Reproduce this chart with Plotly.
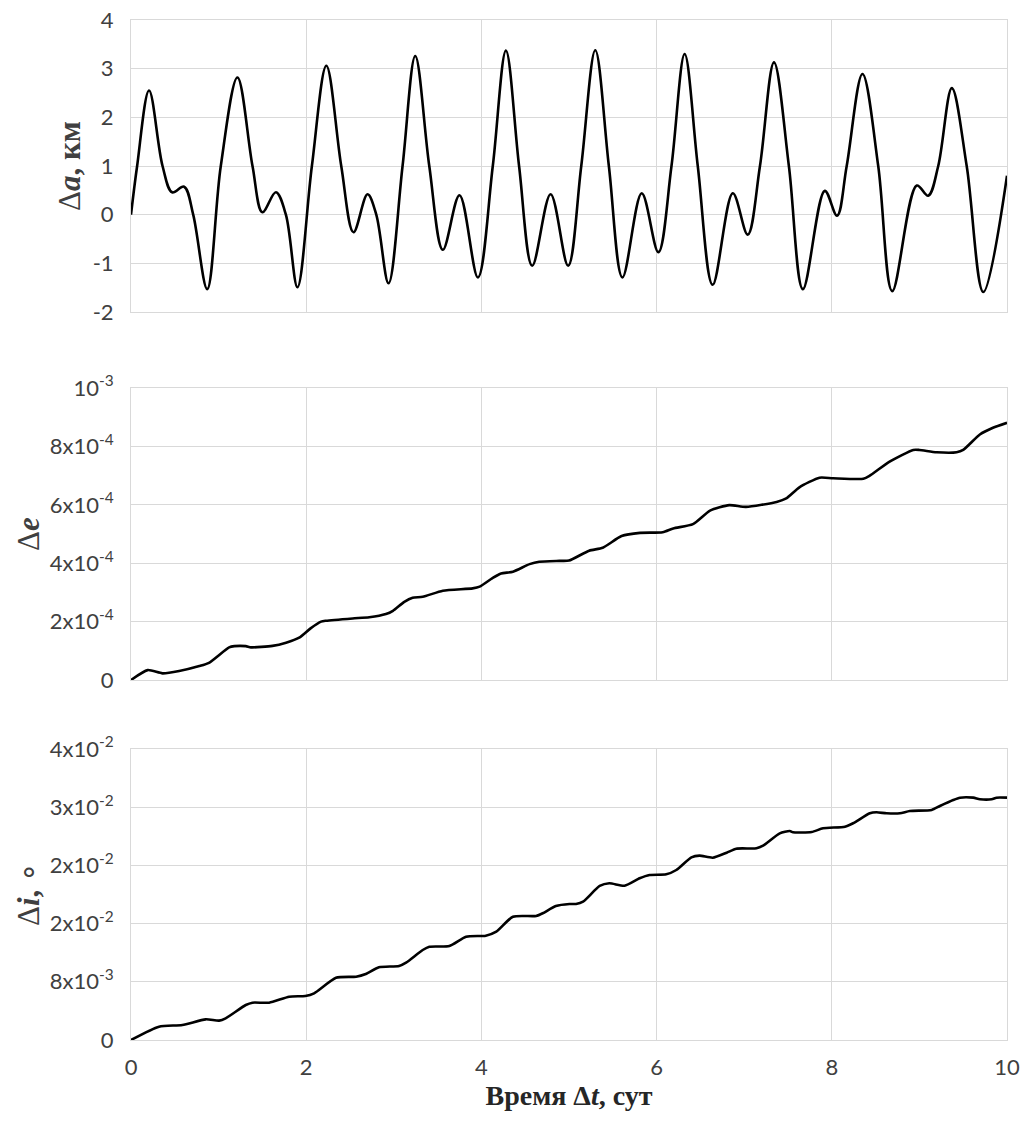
import plotly.graph_objects as go
from plotly.subplots import make_subplots

# --- Δa (km) vs time (days): extrema and slope points
t_a = [0.0, 0.07, 0.206, 0.36, 0.47, 0.606, 0.71, 0.87, 1.025, 1.215, 1.387, 1.50, 1.654, 1.768, 1.90,
       2.065, 2.23, 2.40, 2.54, 2.70, 2.80, 2.94, 3.10, 3.245, 3.405, 3.56, 3.75, 3.96, 4.13, 4.28, 4.43,
       4.58, 4.79, 4.99, 5.14, 5.30, 5.455, 5.61, 5.83, 6.02, 6.17, 6.32, 6.47, 6.64, 6.87, 7.04, 7.18,
       7.34, 7.51, 7.67, 7.92, 8.06, 8.17, 8.35, 8.53, 8.69, 8.97, 9.10, 9.215, 9.37, 9.54, 9.73, 10.0]
da = [0.0, 1.0, 2.55, 1.0, 0.46, 0.575, 0.0, -1.53, 1.0, 2.82, 1.0, 0.05, 0.46, 0.0, -1.49,
      1.0, 3.06, 1.0, -0.36, 0.42, 0.0, -1.41, 1.0, 3.26, 1.0, -0.72, 0.40, -1.29, 1.0, 3.37, 1.0,
      -1.05, 0.42, -1.05, 1.0, 3.38, 1.0, -1.29, 0.44, -0.77, 1.0, 3.30, 1.0, -1.44, 0.44, -0.41, 1.0,
      3.13, 1.0, -1.53, 0.49, -0.02, 1.0, 2.89, 1.0, -1.57, 0.60, 0.39, 1.0, 2.60, 1.0, -1.59, 0.80]

# --- Δe vs time
t_e = [0.0, 0.19, 0.36, 0.55, 0.78, 0.89, 1.12, 1.18, 1.31, 1.37, 1.615, 1.77, 1.92, 2.05, 2.17, 2.225,
       2.53, 2.72, 2.91, 2.99, 3.12, 3.215, 3.33, 3.56, 3.90, 3.98, 4.13, 4.225, 4.36, 4.55, 4.66, 4.89,
       5.0, 5.23, 5.385, 5.6, 5.81, 6.07, 6.19, 6.415, 6.61, 6.83, 7.02, 7.37, 7.48, 7.63, 7.86, 8.015,
       8.36, 8.43, 8.66, 8.93, 9.0, 9.195, 9.425, 9.5, 9.69, 9.84, 10.0]
de = [0.0, 3.4e-5, 2.3e-5, 3.1e-5, 4.8e-5, 5.9e-5, 1.12e-4, 1.16e-4, 1.16e-4, 1.12e-4, 1.17e-4, 1.28e-4,
      1.45e-4, 1.77e-4, 2.0e-4, 2.03e-4, 2.11e-4, 2.15e-4, 2.26e-4, 2.37e-4, 2.68e-4, 2.82e-4, 2.85e-4,
      3.06e-4, 3.14e-4, 3.2e-4, 3.5e-4, 3.65e-4, 3.71e-4, 3.97e-4, 4.05e-4, 4.08e-4, 4.09e-4, 4.43e-4,
      4.53e-4, 4.93e-4, 5.04e-4, 5.06e-4, 5.19e-4, 5.34e-4, 5.8e-4, 5.99e-4, 5.93e-4, 6.1e-4, 6.22e-4,
      6.6e-4, 6.93e-4, 6.91e-4, 6.89e-4, 6.99e-4, 7.48e-4, 7.88e-4, 7.88e-4, 7.8e-4, 7.8e-4, 7.88e-4,
      8.41e-4, 8.64e-4, 8.81e-4]

# --- Δi (deg) vs time
t_i = [0.0, 0.32, 0.586, 0.853, 1.006, 1.08, 1.31, 1.386, 1.577, 1.806, 1.99, 2.09, 2.34, 2.57, 2.68,
       2.83, 3.06, 3.14, 3.33, 3.406, 3.634, 3.825, 4.05, 4.17, 4.36, 4.625, 4.70, 4.85, 5.006, 5.08,
       5.16, 5.35, 5.46, 5.634, 5.806, 5.92, 6.11, 6.225, 6.397, 6.49, 6.64, 6.8, 6.91, 7.14, 7.215,
       7.406, 7.52, 7.557, 7.77, 7.9, 8.15, 8.243, 8.434, 8.51, 8.625, 8.777, 8.89, 9.14, 9.234, 9.386,
       9.463, 9.615, 9.69, 9.825, 9.88, 10.0]
di = [0.0, 0.00183, 0.00206, 0.00284, 0.00266, 0.00298, 0.00481, 0.00513, 0.00513, 0.00595, 0.00605,
      0.00642, 0.00856, 0.0087, 0.00907, 0.00999, 0.01017, 0.01063, 0.01237, 0.01282, 0.01292, 0.0142,
      0.01434, 0.01489, 0.01695, 0.01705, 0.01742, 0.01842, 0.0187, 0.0187, 0.01901, 0.02117, 0.02154,
      0.02121, 0.02223, 0.02268, 0.02278, 0.02337, 0.02511, 0.02534, 0.02506, 0.02575, 0.0263, 0.02635,
      0.02671, 0.02841, 0.02873, 0.02855, 0.02859, 0.0291, 0.02932, 0.02979, 0.03116, 0.0313, 0.03116,
      0.03116, 0.03148, 0.03162, 0.03217, 0.03299, 0.03331, 0.03331, 0.03309, 0.03309, 0.03331, 0.03331]

# tick labels
x_ticks = [0, 2, 4, 6, 8, 10]
a_ticks = [-2, -1, 0, 1, 2, 3, 4]
a_labels = ["-2", "-1", "0", "1", "2", "3", "4"]
e_ticks = [0, 2e-4, 4e-4, 6e-4, 8e-4, 1e-3]
e_labels = ["0", "2x10<sup>-4</sup>", "4x10<sup>-4</sup>", "6x10<sup>-4</sup>", "8x10<sup>-4</sup>", "10<sup>-3</sup>"]
i_ticks = [0, 0.008, 0.016, 0.024, 0.032, 0.04]
i_labels = ["0", "8x10<sup>-3</sup>", "2x10<sup>-2</sup>", "2x10<sup>-2</sup>", "3x10<sup>-2</sup>", "4x10<sup>-2</sup>"]

fig = make_subplots(rows=3, cols=1, shared_xaxes=True)
line = dict(color="black", width=2.6)
fig.add_trace(go.Scatter(x=t_a, y=da, mode="lines", line=dict(line, shape="spline", smoothing=1.0)), row=1, col=1)
fig.add_trace(go.Scatter(x=t_e, y=de, mode="lines", line=dict(line, shape="spline", smoothing=0.6)), row=2, col=1)
fig.add_trace(go.Scatter(x=t_i, y=di, mode="lines", line=dict(line, shape="spline", smoothing=0.6)), row=3, col=1)

grid = "#d9d9d9"
tickfont = dict(family="Lato", size=22, color="#404040")
ytitlefont = dict(family="Liberation Serif", size=31, color="#404040")
xtitlefont = dict(family="Liberation Serif", size=28, color="#262626")

xcommon = dict(range=[0, 10], tickvals=x_ticks, showgrid=True, gridcolor=grid, gridwidth=1,
               zeroline=False, showline=True, linecolor=grid, mirror=True, ticks="", tickfont=tickfont,
               ticklabelstandoff=8, automargin=False)
fig.update_xaxes(**xcommon)
fig.update_xaxes(showticklabels=False, row=1, col=1)
fig.update_xaxes(showticklabels=False, row=2, col=1)
fig.update_xaxes(title=dict(text="<b>Время Δ<i>t</i>, сут</b>", font=xtitlefont, standoff=2), row=3, col=1)

ycommon = dict(showgrid=True, gridcolor=grid, gridwidth=1, zeroline=False, showline=True,
               linecolor=grid, mirror=True, ticks="", tickfont=tickfont, ticklabelstandoff=12,
               automargin=False)
fig.update_yaxes(**ycommon)
fig.update_yaxes(range=[-2, 4], tickvals=a_ticks, ticktext=a_labels, domain=[0.7137, 1.0],
                 title=dict(text="Δ<b><i>a</i>, км</b>", font=ytitlefont, standoff=2), row=1, col=1)
fig.update_yaxes(range=[0, 1e-3], tickvals=e_ticks, ticktext=e_labels, domain=[0.3529, 0.6392],
                 title=dict(text="Δ<b><i>e</i></b>", font=ytitlefont, standoff=0), row=2, col=1)
fig.update_yaxes(range=[0, 0.04], tickvals=i_ticks, ticktext=i_labels, domain=[0.0, 0.2853],
                 title=dict(text="Δ<b><i>i</i>,</b> ∘", font=ytitlefont, standoff=0), row=3, col=1)

fig.update_layout(width=1031, height=1130, margin=dict(l=131, r=24, t=20, b=90, autoexpand=False),
                  plot_bgcolor="white", paper_bgcolor="white", showlegend=False)
fig.write_html("out.html")
